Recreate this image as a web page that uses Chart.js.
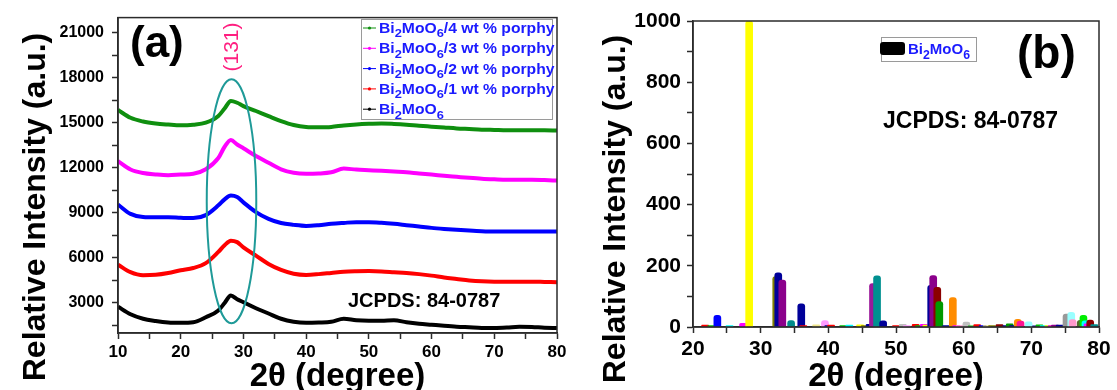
<!DOCTYPE html>
<html>
<head>
<meta charset="utf-8">
<script src="https://cdn.jsdelivr.net/npm/chart.js@4.4.0/dist/chart.umd.min.js"></script>
<style>
  body { margin: 0; background: #fff; width: 1117px; height: 390px; overflow: hidden; position: relative; }
  canvas { position: absolute; top: 0; }
  #chart-a { left: 0; }
  #chart-b { left: 570px; }
</style>
</head>
<body>
<canvas id="chart-a" width="570" height="390"></canvas>
<canvas id="chart-b" width="547" height="390"></canvas>
<script>
const FONT = "'Liberation Sans', Arial, Helvetica, sans-serif";
const AXIS = '#2b2b2b';
const LABEL_BLUE = '#1b1bff';

// panel (a): XRD patterns
const twoTheta = [10, 12, 14, 16, 18, 20, 22, 24, 26, 27, 28, 29, 30, 32, 34, 36, 38, 40, 42, 44, 46, 48, 50, 52, 54, 56, 58, 60, 62, 64, 66, 68, 70, 72, 74, 76, 78, 80];
const pureBi2MoO6 = [2750, 2250, 1950, 1800, 1700, 1680, 1720, 2050, 2500, 3000, 3500, 3250, 3050, 2650, 2300, 1950, 1750, 1680, 1700, 1750, 1950, 1850, 1820, 1820, 1850, 1720, 1620, 1550, 1480, 1420, 1380, 1340, 1330, 1360, 1420, 1400, 1350, 1330];
const porphy1 = [5550, 5050, 4850, 4880, 5000, 5180, 5330, 5650, 6400, 6850, 7150, 7050, 6700, 6150, 5600, 5200, 4950, 4870, 4920, 5000, 5080, 5110, 5120, 5100, 5050, 5000, 4920, 4820, 4700, 4600, 4500, 4440, 4420, 4420, 4420, 4420, 4400, 4380];
const porphy2 = [9550, 8930, 8720, 8700, 8700, 8670, 8650, 8850, 9500, 9900, 10150, 10050, 9700, 9050, 8600, 8320, 8200, 8130, 8180, 8270, 8330, 8380, 8380, 8340, 8270, 8180, 8090, 8000, 7930, 7870, 7820, 7780, 7760, 7760, 7760, 7760, 7760, 7760];
const porphy3 = [12440, 11890, 11650, 11560, 11510, 11550, 11600, 11900, 12650, 13400, 13850, 13550, 13300, 12780, 12330, 11900, 11670, 11600, 11620, 11700, 11950, 11880, 11840, 11800, 11750, 11700, 11620, 11550, 11470, 11400, 11330, 11270, 11230, 11200, 11200, 11200, 11180, 11150];
const porphy4 = [15850, 15330, 15080, 14950, 14880, 14830, 14870, 15000, 15450, 15950, 16450, 16330, 16110, 15780, 15440, 15110, 14850, 14720, 14700, 14720, 14820, 14890, 14930, 14950, 14920, 14870, 14800, 14740, 14680, 14620, 14580, 14540, 14520, 14500, 14500, 14500, 14500, 14480];
const seriesNames = ['Bi2MoO6/4 wt % porphy', 'Bi2MoO6/3 wt % porphy', 'Bi2MoO6/2 wt % porphy', 'Bi2MoO6/1 wt % porphy', 'Bi2MoO6'];
const seriesValues = [porphy4, porphy3, porphy2, porphy1, pureBi2MoO6];
const seriesColors = ['#0f8f0f', '#ff00ff', '#0000ff', '#ff0000', '#000000'];
const yTicksA = [1500, 3000, 4500, 6000, 7500, 9000, 10500, 12000, 13500, 15000, 16500, 18000, 19500, 21000];

// the (131) ellipse, in data units
const peak131 = { center: 28.1, halfWidth: 3.95, low: 1650, high: 17900 };

// panel (b): JCPDS 84-0787 reference lines
const stickPos = [21.8, 22.7, 23.6, 25.4, 27.4, 28.3, 32.3, 32.6, 33.2, 34.5, 36.0, 36.3, 38.2, 39.5, 40.0, 40.4, 42.2, 43.1, 44.7, 45.4, 46.1, 46.6, 47.2, 48.1, 50.0, 51.0, 51.6, 52.9, 53.4, 54.1, 54.5, 55.2, 55.5, 56.1, 56.4, 57.4, 58.4, 58.9, 59.4, 60.4, 61.2, 62.0, 62.8, 63.4, 64.2, 65.3, 66.3, 66.8, 67.3, 68.0, 68.4, 69.6, 70.7, 71.2, 71.8, 72.5, 73.0, 73.5, 74.2, 75.2, 75.9, 76.1, 77.3, 77.7, 78.0, 78.3, 78.7, 79.3];
const stickHeight = [6, 5, 38, 5, 12, 1000, 165, 177, 153, 21, 76, 5, 7, 21, 5, 6, 5, 6, 7, 5, 9, 142, 167, 20, 5, 9, 5, 9, 5, 9, 6, 136, 168, 130, 83, 5, 96, 5, 5, 16, 4, 8, 5, 5, 5, 8, 5, 10, 5, 25, 19, 17, 4, 7, 5, 5, 5, 6, 6, 42, 48, 24, 22, 38, 20, 10, 23, 8];
const stickColor = ['#ff0000', '#00c000', '#0000ff', '#00ffff', '#ff00ff', '#ffff00', '#808000', '#000099', '#8b008b', '#008b8b', '#000099', '#ff0000', '#f0e68c', '#ff99ff', '#000099', '#ff0000', '#00c000', '#00ffff', '#ffff00', '#808000', '#000099', '#9a1a9a', '#009090', '#000099', '#ff0000', '#c0c0c0', '#ff99ff', '#ff0000', '#00c000', '#ff00ff', '#ffff00', '#000099', '#8b008b', '#8b0000', '#009900', '#000099', '#ff8c00', '#ff00ff', '#ff99cc', '#c0c0c0', '#00c000', '#ff0000', '#0000ff', '#f0e68c', '#808000', '#8b0000', '#000099', '#009900', '#000099', '#ff8c00', '#ff1493', '#99ffff', '#000099', '#00c000', '#00ffff', '#ffff00', '#ff00ff', '#8b008b', '#000099', '#999999', '#99ffff', '#ff99cc', '#556b2f', '#00ee00', '#00ffff', '#ff00ff', '#8b0000', '#008b8b'];
const legendB = 'Bi2MoO6';

function chemParts(label) {
    const m = label.match(/^Bi2MoO6(.*)$/);
    if (!m) return [[label, false]];
    return [['Bi', false], ['2', true], ['MoO', false], ['6', true], [m[1], false]];
}

function chemText(ctx, label, x, y, size, color, stretch) {
    ctx.save();
    ctx.translate(x, y);
    ctx.scale(stretch || 1, 1);
    ctx.fillStyle = color;
    ctx.textAlign = 'left';
    ctx.textBaseline = 'alphabetic';
    let cx = 0;
    chemParts(label).forEach(([txt, sub]) => {
        if (!txt) return;
        const s = sub ? size * 0.82 : size;
        ctx.font = `bold ${s}px ${FONT}`;
        ctx.fillText(txt, cx, sub ? size * 0.32 : 0);
        cx += ctx.measureText(txt).width;
    });
    ctx.restore();
}

function text(ctx, str, x, y, font, color, align) {
    ctx.save();
    ctx.font = font;
    ctx.fillStyle = color;
    ctx.textAlign = align || 'left';
    ctx.textBaseline = 'alphabetic';
    ctx.fillText(str, x, y);
    ctx.restore();
}

function vText(ctx, str, x, y, font, color, baseline) {
    ctx.save();
    ctx.translate(x, y);
    ctx.rotate(-Math.PI / 2);
    ctx.font = font;
    ctx.fillStyle = color;
    ctx.textAlign = 'center';
    ctx.textBaseline = baseline || 'alphabetic';
    ctx.fillText(str, 0, 0);
    ctx.restore();
}

function drawFrame(chart) {
    const { ctx, chartArea: a } = chart;
    ctx.save();
    ctx.strokeStyle = AXIS;
    ctx.lineWidth = 1.5;
    ctx.strokeRect(a.left, a.top, a.right - a.left, a.bottom - a.top);
    ctx.restore();
}

// shared axis look; every 2nd tick gets a label
function axis(min, max, step, labelStep, size, padding, extra) {
    return Object.assign({
        type: 'linear',
        min: min,
        max: max,
        offset: false,
        grid: { drawOnChartArea: false, offset: false, tickLength: 6, tickColor: AXIS, tickWidth: 1.5 },
        border: { color: AXIS, width: 1.5 },
        ticks: {
            stepSize: step,
            padding: padding,
            autoSkip: false,
            maxRotation: 0,
            color: '#000',
            font: { family: FONT, size: size, weight: 'bold' },
            callback: v => (v % labelStep === 0 ? v : '')
        }
    }, extra);
}

const decorA = {
    id: 'decorA',
    afterDatasetsDraw(chart) {
        const { ctx, scales: { x, y } } = chart;
        const cx = x.getPixelForValue(peak131.center);
        const rx = x.getPixelForValue(peak131.center + peak131.halfWidth) - cx;
        const top = y.getPixelForValue(peak131.high);
        const bottom = y.getPixelForValue(peak131.low);
        ctx.save();
        ctx.strokeStyle = '#1f9a98';
        ctx.lineWidth = 2;
        ctx.beginPath();
        ctx.ellipse(cx, (top + bottom) / 2, rx, (bottom - top) / 2, 0, 0, Math.PI * 2);
        ctx.stroke();
        ctx.restore();
    },
    afterDraw(chart) {
        const { ctx, chartArea: a } = chart;
        drawFrame(chart);
        text(ctx, '(a)', 130, 57, `bold 44px ${FONT}`, '#000');
        vText(ctx, '(131)', chart.scales.x.getPixelForValue(peak131.center) + 1, 47, `21px ${FONT}`, '#ff1f80', 'middle');
        text(ctx, 'JCPDS: 84-0787', 348, 307, `bold 20px ${FONT}`, '#000');

        // legend
        ctx.save();
        ctx.strokeStyle = '#9a9a9a';
        ctx.lineWidth = 1;
        ctx.strokeRect(361.5, 19.5, 191, 100);
        seriesNames.forEach((name, i) => {
            const cy = 28 + i * 20.3;
            ctx.strokeStyle = seriesColors[i];
            ctx.beginPath();
            ctx.moveTo(363, cy);
            ctx.lineTo(376, cy);
            ctx.stroke();
            ctx.fillStyle = seriesColors[i];
            ctx.beginPath();
            ctx.arc(369.5, cy, 1.6, 0, Math.PI * 2);
            ctx.fill();
            chemText(ctx, name, 379, cy + 5, 14, LABEL_BLUE, 1.12);
        });
        ctx.restore();

        vText(ctx, 'Relative Intensity (a.u.)', 45, 207, `bold 32px ${FONT}`, '#000');
        text(ctx, '2\u03b8 (degree)', (a.left + a.right) / 2, 386, `bold 33px ${FONT}`, '#000', 'center');
    }
};

const decorB = {
    id: 'decorB',
    afterDraw(chart) {
        const { ctx, chartArea: a } = chart;
        drawFrame(chart);
        text(ctx, '(b)', 447, 68, `bold 46px ${FONT}`, '#000');
        text(ctx, 'JCPDS: 84-0787', 313, 128, `bold 23px ${FONT}`, '#000');

        ctx.save();
        ctx.strokeStyle = '#9a9a9a';
        ctx.lineWidth = 1;
        ctx.strokeRect(311.5, 37.5, 95, 24);
        ctx.fillStyle = '#000';
        ctx.beginPath();
        ctx.roundRect(310, 42, 25, 13, 3);
        ctx.fill();
        ctx.restore();
        chemText(ctx, legendB, 338, 54, 15, LABEL_BLUE, 1);

        vText(ctx, 'Relative Intensity (a.u.)', 55, 209, `bold 32px ${FONT}`, '#000');
        text(ctx, '2\u03b8 (degree)', (a.left + a.right) / 2, 386, `bold 33px ${FONT}`, '#000', 'center');
    }
};

function initChartA() {
    new Chart(document.getElementById('chart-a'), {
        type: 'line',
        data: {
            datasets: seriesNames.map((name, i) => ({
                label: name,
                data: twoTheta.map((t, k) => ({ x: t, y: seriesValues[i][k] })),
                borderColor: seriesColors[i],
                borderWidth: 4,
                pointRadius: 0,
                cubicInterpolationMode: 'monotone',
                fill: false
            }))
        },
        options: {
            responsive: false,
            animation: false,
            layout: { padding: { top: 16, right: 13, left: 0, bottom: 0 } },
            plugins: { legend: { display: false }, tooltip: { enabled: false } },
            scales: {
                x: axis(10, 80, 5, 10, 17, 3, { afterFit: s => { s.height = 57; } }),
                y: axis(1000, 22000, 1500, 3000, 16, 8, {
                    afterBuildTicks: s => { s.ticks = yTicksA.map(v => ({ value: v })); },
                    afterFit: s => { s.width = 118; }
                })
            }
        },
        plugins: [decorA]
    });
}

function initChartB() {
    new Chart(document.getElementById('chart-b'), {
        type: 'bar',
        data: {
            datasets: [{
                label: legendB,
                data: stickPos.map((p, i) => ({ x: p, y: stickHeight[i] })),
                backgroundColor: stickColor,
                barThickness: 7,
                borderRadius: 3,
                borderSkipped: 'start'
            }]
        },
        options: {
            responsive: false,
            animation: false,
            layout: { padding: { top: 21, right: 18, left: 0, bottom: 0 } },
            plugins: { legend: { display: false }, tooltip: { enabled: false } },
            scales: {
                x: axis(20, 80, 5, 10, 21, 4, { afterFit: s => { s.height = 63; } }),
                y: axis(0, 1000, 100, 200, 21, 6, { afterFit: s => { s.width = 123; } })
            }
        },
        plugins: [decorB]
    });
}

initChartA();
initChartB();
</script>
</body>
</html>
